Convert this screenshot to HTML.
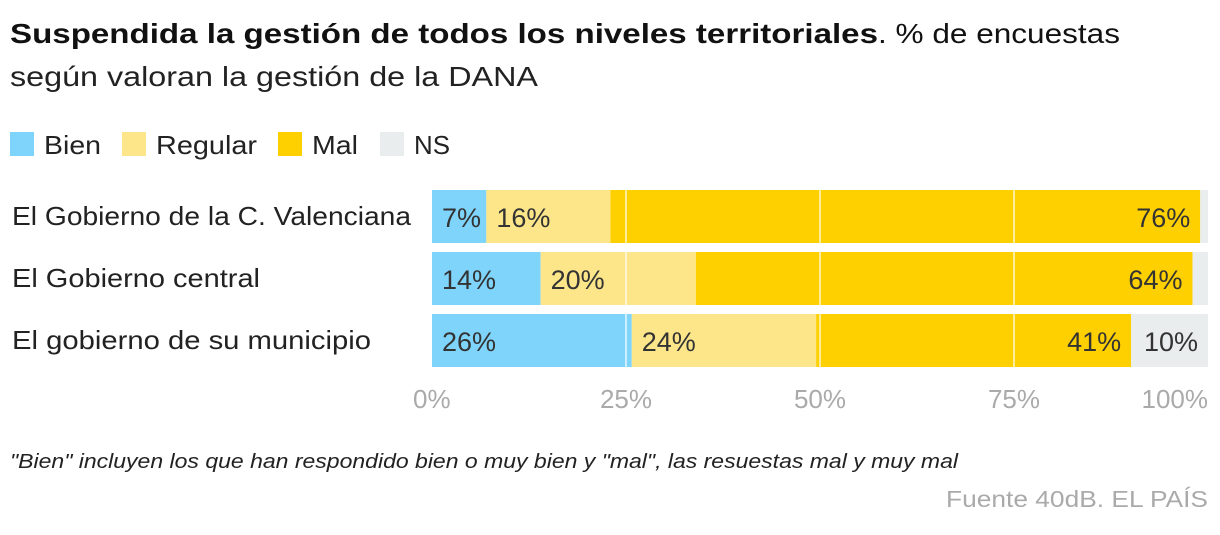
<!DOCTYPE html>
<html><head><meta charset="utf-8"><style>
body{margin:0;background:#fff;width:1220px;height:530px;overflow:hidden;font-family:"Liberation Sans",sans-serif;color:#222}
</style></head><body>
<svg width="1220" height="530" font-family="Liberation Sans, sans-serif">
<text x="10" y="43" font-size="28" fill="#111"><tspan font-weight="bold" textLength="868" lengthAdjust="spacingAndGlyphs">Suspendida la gestión de todos los niveles territoriales</tspan><tspan textLength="242" lengthAdjust="spacingAndGlyphs">. % de encuestas</tspan></text>
<text x="10" y="86" font-size="28" fill="#222" textLength="528" lengthAdjust="spacingAndGlyphs">según valoran la gestión de la DANA</text>
<g id="legend"></g>
<g id="bars"></g>
<g id="axis"></g>
<text x="10" y="468" font-size="20" font-style="italic" fill="#222" textLength="948" lengthAdjust="spacingAndGlyphs">"Bien" incluyen los que han respondido bien o muy bien y "mal", las resuestas mal y muy mal</text>
<text x="1208" y="507" font-size="23" fill="#aaa" text-anchor="end" textLength="262" lengthAdjust="spacingAndGlyphs">Fuente 40dB. EL PAÍS</text>
</svg>
<script>
const categories=["El Gobierno de la C. Valenciana","El Gobierno central","El gobierno de su municipio"];
const seriesNames=["Bien","Regular","Mal","NS"];
const bien=[7,14,26];
const regular=[16,20,24];
const mal=[76,64,41];
const ns=[1,2,10];
const ticks=[0,25,50,75,100];
const colors=["#7fd4fc","#fde68a","#ffd000","#e9eded"];
const NS="http://www.w3.org/2000/svg";
const x0=432,x1=1208;
const xs=v=>x0+(x1-x0)*v/100;
function mk(t,a,p){const e=document.createElementNS(NS,t);for(const k in a)e.setAttribute(k,a[k]);p.appendChild(e);return e;}
const lg=document.getElementById('legend');
const lx=[10,122,278,380];
const lw=[57,101,46,36];
seriesNames.forEach((n,i)=>{
 const r=mk('rect',{x:lx[i],y:132,width:24,height:24,fill:colors[i]},lg);
 
 
 const t=mk('text',{x:lx[i]+34,y:154,'font-size':26,fill:'#222',textLength:lw[i],lengthAdjust:'spacingAndGlyphs'},lg);t.textContent=n;
 
 
});
const bg=document.getElementById('bars');
const series=[bien,regular,mal,ns];
const labW=[399,248,359];
categories.forEach((c,i)=>{
 const y=190+i*62,h=53;
 const lab=mk('text',{x:12,y:y+35,'font-size':26,fill:'#222',textLength:labW[i],lengthAdjust:'spacingAndGlyphs'},bg);lab.textContent=c;
 
 
 const tot=series.reduce((s,a)=>s+a[i],0);
 let cum=0;
 series.forEach((s,j)=>{
  const v=s[i]*100/tot;
  const r=mk('rect',{x:xs(cum),y:y,width:xs(cum+v)-xs(cum),height:h,fill:colors[j]},bg);
  
  
  if(s[i]>=5){
   let tx,anchor;
   if(j===2){tx=xs(cum+v)-10;anchor='end';}
   else if(j===3){tx=xs(cum+v)-10;anchor='end';}
   else{tx=xs(cum)+10;anchor='start';}
   const t=mk('text',{x:tx,y:y+37,'font-size':27,fill:'#333','text-anchor':anchor},bg);t.textContent=s[i]+'%';
   
   
  }
  cum+=v;
 });
});
ticks.slice(1,4).forEach(t=>{
 const l=mk('line',{x1:xs(t),x2:xs(t),y1:190,y2:367,stroke:'#fff','stroke-opacity':0.6,'stroke-width':2},bg);
 
 
});
const ax=document.getElementById('axis');
ticks.forEach((t,i)=>{
 const anchor=i===0?'start':(i===ticks.length-1?'end':'middle');
 const tx=i===0?413:xs(t);
 const e=mk('text',{x:tx,y:408,'font-size':26,fill:'#aaa','text-anchor':anchor},ax);e.textContent=t+'%';
 
 
});
</script>
</body></html>
